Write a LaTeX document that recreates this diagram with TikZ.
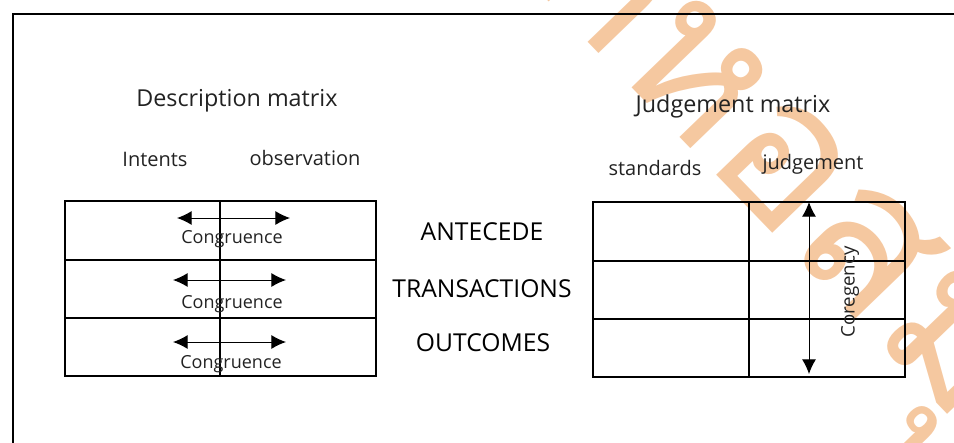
\documentclass[tikz,border=0pt]{standalone}
\usepackage{fontspec}
\setmainfont{Open Sans}
\newfontfamily\thaifont[Script=Thai]{Loma}
\usetikzlibrary{arrows.meta}
\definecolor{wmark}{RGB}{245,200,160}
\definecolor{ink}{RGB}{34,34,34}
\begin{document}
\begin{tikzpicture}[x=0.75pt,y=0.75pt,
  grid/.style={line width=1.3pt},
  dbl/.style={line width=0.75pt,>={Latex[length=11pt,width=10.5pt]},<->},
  wm/.style={rotate=-46,text=wmark,font=\thaifont\fontsize{150}{160}\selectfont,inner sep=0pt},
  head/.style={anchor=base,text=ink,font=\fontsize{17.5}{20}\selectfont},
  col/.style={anchor=base,text=ink,font=\fontsize{15}{18}\selectfont},
  stage/.style={anchor=base,text=black,font=\fontsize{18.5}{21}\selectfont},
  small/.style={anchor=base,text=ink,font=\fontsize{13.5}{16}\selectfont,inner sep=0pt}]
  \useasboundingbox (0,0) rectangle (954,-443);
  % watermark
  \node[wm,anchor=mid east] (wm1) at (612,-62) {สำนัก};
  \node[wm,anchor=mid west] (wm2) at (612,-62) {หอสมุดกลาง};
  % frame
  \draw [line width=1.8pt] (13,-443) -- (13,-14) -- (954,-14);
  % headings
  \node[head] (dm) at (237,-106) {Description matrix};
  \node[head] (jm) at (733,-112) {Judgement matrix};
  \node[col] (int) at (155,-166) {Intents};
  \node[col] (obs) at (305,-165) {observation};
  \node[col] (std) at (655,-175) {standards};
  \node[col] (jdg) at (813,-169) {judgement};
  % description matrix
  \draw [grid] (65,-201) rectangle (376,-376);
  \draw [grid] (65,-260) -- (376,-260);
  \draw [grid] (65,-318) -- (376,-318);
  \draw [grid] (220,-201) -- (220,-376);
  % judgement matrix
  \draw [grid] (593,-202) rectangle (905,-377);
  \draw [grid] (593,-261) -- (905,-261);
  \draw [grid] (593,-319) -- (905,-319);
  \draw [grid] (749,-202) -- (749,-377);
  % stages
  \node[stage] (ant) at (482,-240) {ANTECEDE};
  \node[stage] (tra) at (482,-297) {TRANSACTIONS};
  \node[stage] (out) at (483,-351) {OUTCOMES};
  % congruence
  \coordinate (a1l) at (177,-218);
  \coordinate (a1r) at (290,-218);
  \coordinate (a2l) at (173,-280);
  \coordinate (a2r) at (286,-280);
  \coordinate (a3l) at (173,-342);
  \coordinate (a3r) at (286,-342);
  \draw [dbl] (a1l) -- (a1r);
  \draw [dbl] (a2l) -- (a2r);
  \draw [dbl] (a3l) -- (a3r);
  \node[small] (c1) at (232,-243) {Congruence};
  \node[small] (c2) at (232,-308) {Congruence};
  \node[small] (c3) at (231,-368) {Congruence};
  % contingency
  \coordinate (ctop) at (809,-202);
  \coordinate (cbot) at (809,-374);
  \draw [dbl] (ctop) -- (cbot);
  \node[text=ink,font=\fontsize{14}{16}\selectfont,rotate=90] (cor) at (850,-292) {Coregency};
\end{tikzpicture}
\end{document}
